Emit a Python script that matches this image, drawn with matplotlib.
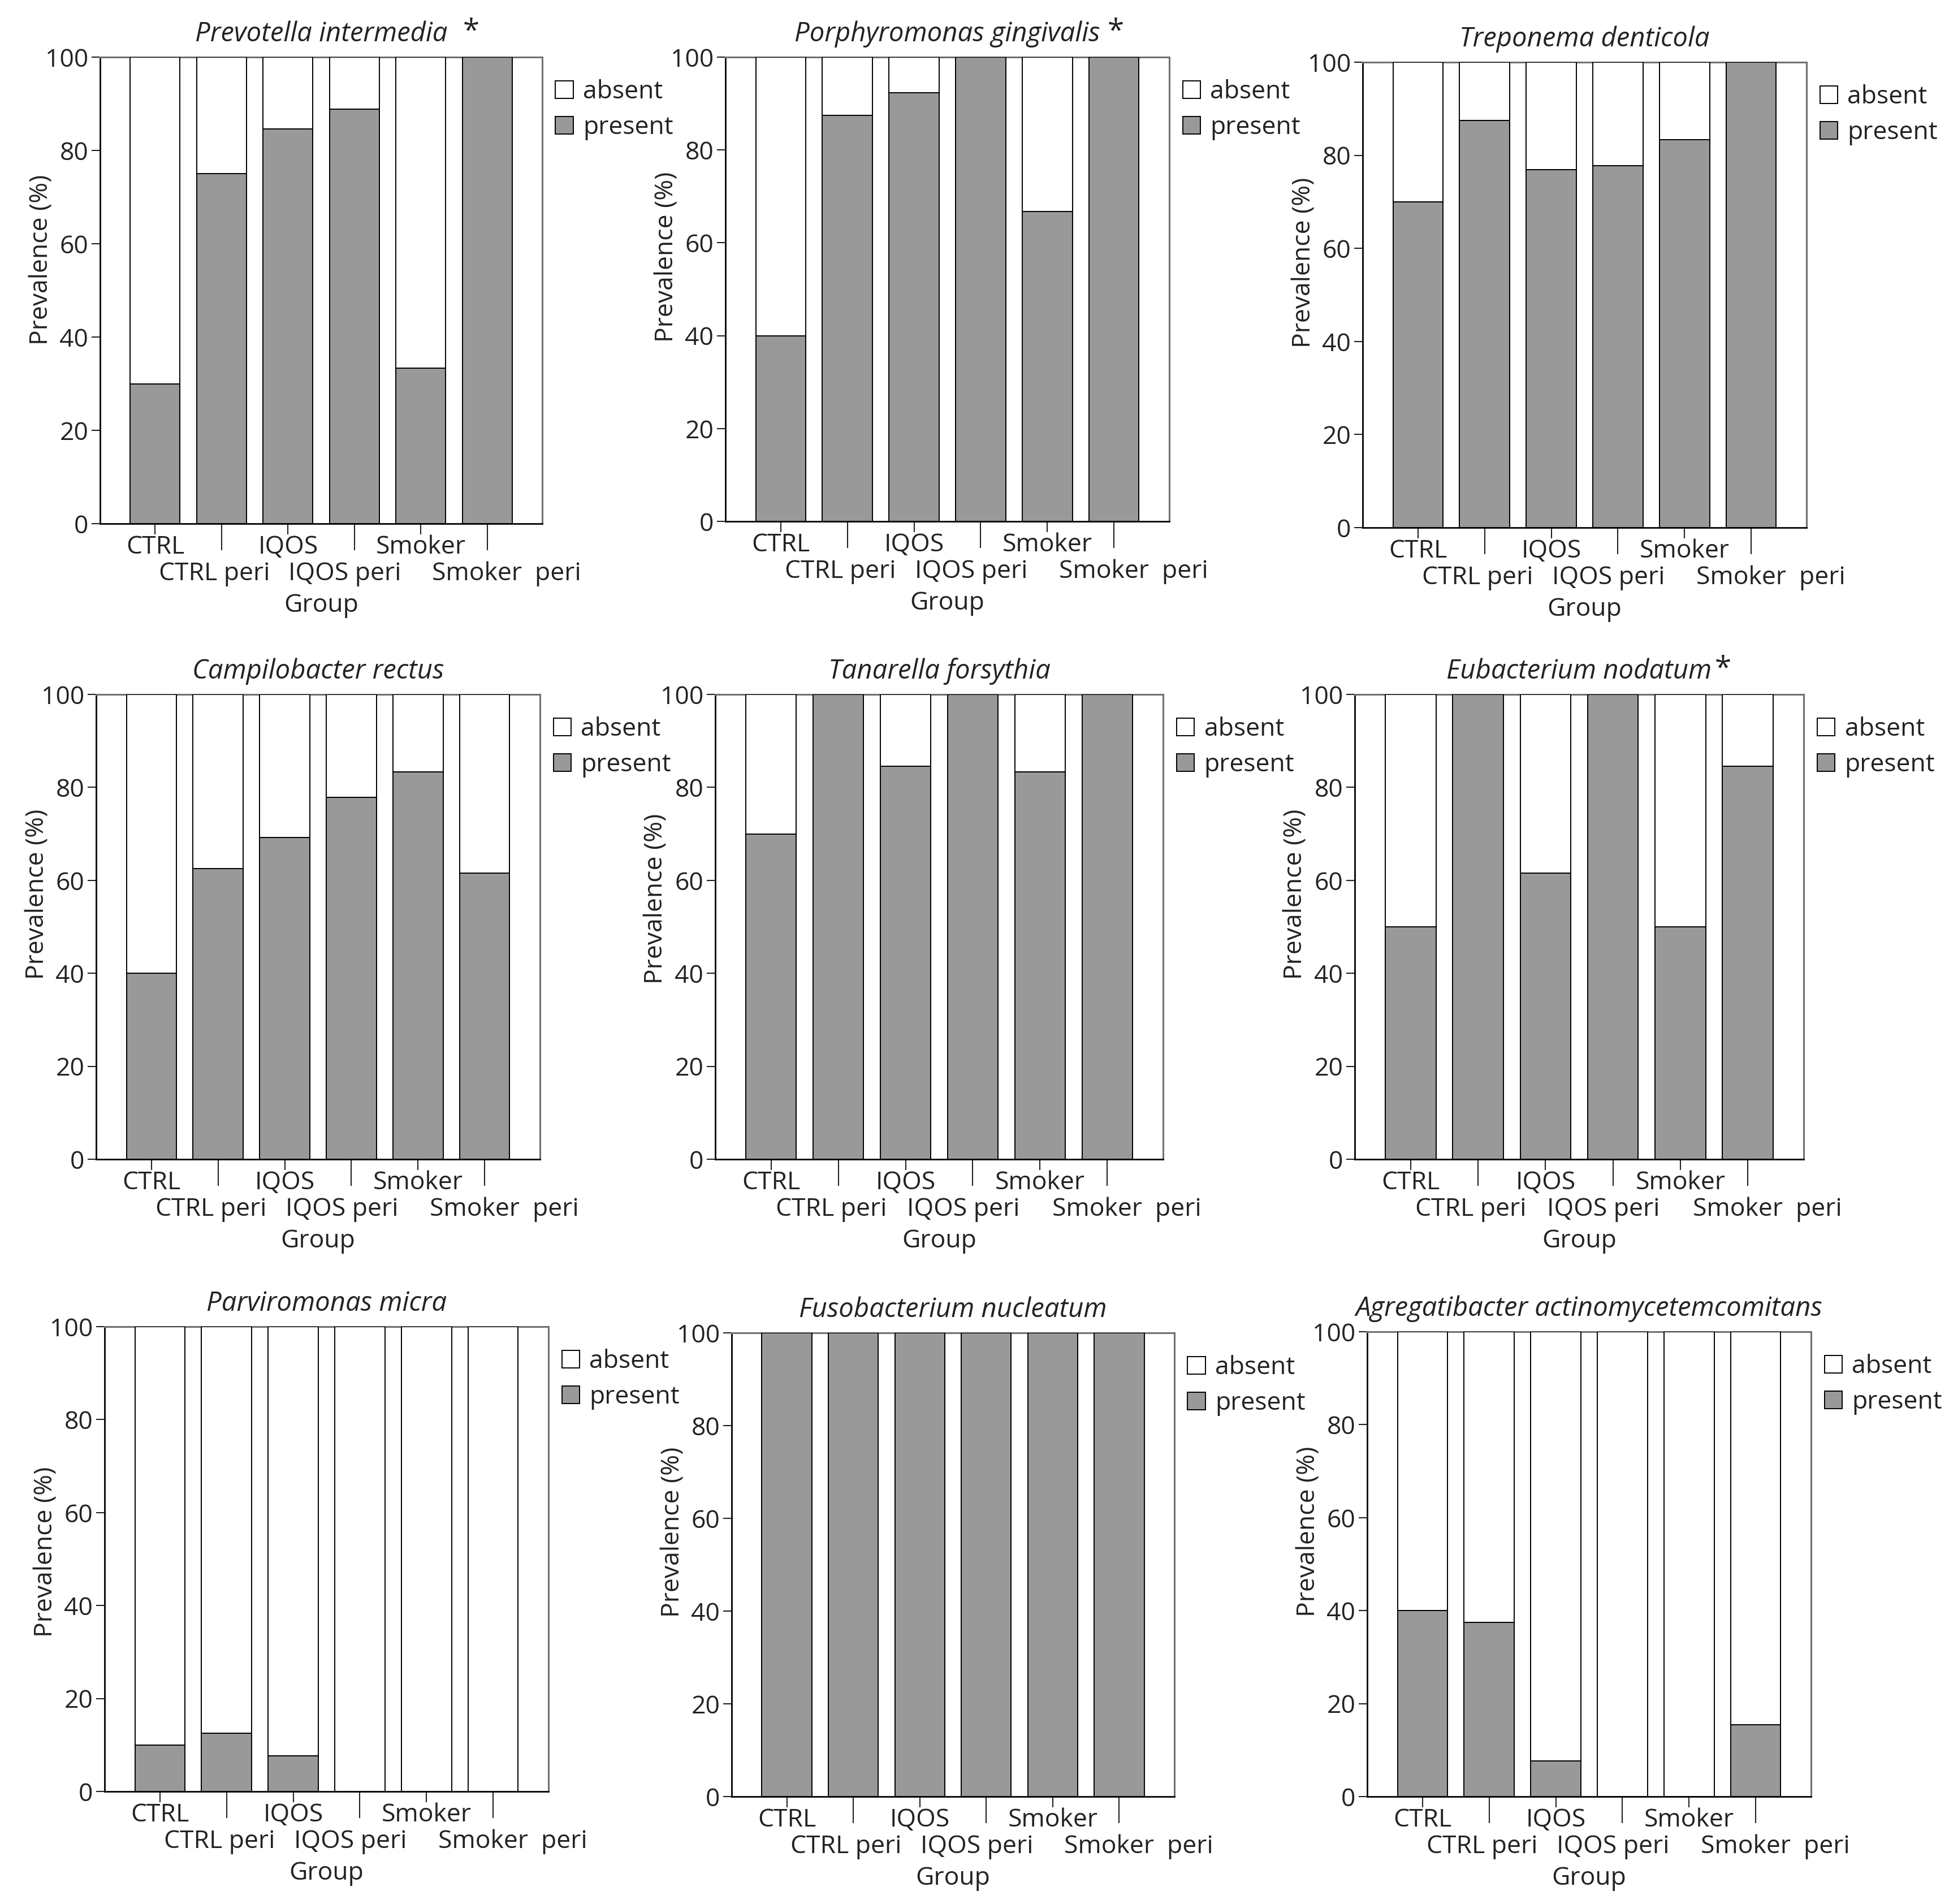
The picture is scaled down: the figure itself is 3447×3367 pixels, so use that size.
import numpy as np
import matplotlib
matplotlib.use('Agg')
import matplotlib.pyplot as plt
import matplotlib.transforms as mtransforms

plt.rcParams['font.family'] = ['Open Sans', 'DejaVu Sans']

groups = ['CTRL', 'CTRL peri', 'IQOS', 'IQOS peri', 'Smoker', 'Smoker  peri']

# prevalence of "present" per group (%)
prevotella = [30.0, 75.0, 84.6, 88.9, 33.3, 100.0]
porphyromonas = [40.0, 87.5, 92.3, 100.0, 66.7, 100.0]
treponema = [70.0, 87.5, 76.9, 77.8, 83.3, 100.0]
campilobacter = [40.0, 62.5, 69.2, 77.8, 83.3, 61.5]
tanarella = [70.0, 100.0, 84.6, 100.0, 83.3, 100.0]
eubacterium = [50.0, 100.0, 61.5, 100.0, 50.0, 84.6]
parviromonas = [10.0, 12.5, 7.7, 0.0, 0.0, 0.0]
fusobacterium = [100.0, 100.0, 100.0, 100.0, 100.0, 100.0]
agregatibacter = [40.0, 37.5, 7.7, 0.0, 0.0, 15.4]

titles = ['Prevotella intermedia', 'Porphyromonas gingivalis', 'Treponema denticola',
          'Campilobacter rectus', 'Tanarella forsythia', 'Eubacterium nodatum',
          'Parviromonas micra', 'Fusobacterium nucleatum', 'Agregatibacter actinomycetemcomitans']
significant = [True, True, False, False, False, True, False, False, False]
present_all = [prevotella, porphyromonas, treponema, campilobacter, tanarella,
               eubacterium, parviromonas, fusobacterium, agregatibacter]

W, H = 3448, 3367
fig = plt.figure(figsize=(W / 100, H / 100), dpi=100)

# axes boxes in pixels (left, top, right, bottom) - panels are slightly offset in the original
boxes = [(177, 101, 959, 926), (1283, 101, 2068, 922), (2410, 110, 3195, 933),
         (170, 1228, 955, 2050), (1265, 1228, 2057, 2050), (2396, 1228, 3190, 2050),
         (185, 2346, 970, 3168), (1294, 2357, 2077, 3177), (2418, 2355, 3203, 3177)]
star_gap = {0: 20, 1: 9, 5: 4}
# the "peri" labels sit a bit off their ticks in the original (points)
peri_shift = [-9, -12, 25]
# y label is not quite centred on the axis in the original
ylab_y = [0.565, 0.57, 0.57, 0.57, 0.56, 0.57, 0.515, 0.57, 0.57]

fs = 32
txt = '#222222'
gray = '#999999'
x = np.arange(len(groups))

for i, (l, t, r, b) in enumerate(boxes):
    ax = fig.add_axes([l / W, 1 - b / H, (r - l) / W, (b - t) / H])
    present = np.array(present_all[i])
    absent = 100 - present
    pb = ax.bar(x, present, width=0.75, color=gray, edgecolor='black', linewidth=1.4, zorder=3)
    ab = ax.bar(x, absent, bottom=present, width=0.75, color='white', edgecolor='black',
                linewidth=1.4, zorder=3)
    ax.set_xlim(-0.83, 5.83)
    ax.set_ylim(0, 100)
    ax.set_yticks(range(0, 101, 20))
    ax.tick_params(axis='y', labelsize=fs, length=11, width=1.5, pad=4, colors=txt)

    # staggered x labels: even groups on major ticks, odd ones on long minor ticks
    ax.set_xticks(x[::2])
    ax.set_xticklabels(groups[::2])
    ax.set_xticks(x[1::2], minor=True)
    ax.set_xticklabels(groups[1::2], minor=True)
    ax.tick_params(axis='x', which='major', labelsize=fs, length=14, width=1.5, pad=0, colors=txt)
    ax.tick_params(axis='x', which='minor', labelsize=fs, length=34, width=1.5, pad=14, colors=txt)
    for lab, dx in zip(ax.get_xticklabels(minor=True), peri_shift):
        lab.set_transform(lab.get_transform() +
                          mtransforms.ScaledTranslation(dx / 72, 0, fig.dpi_scale_trans))

    for s in ['left', 'bottom']:
        ax.spines[s].set_color('black')
        ax.spines[s].set_linewidth(2)
    for s in ['top', 'right']:
        ax.spines[s].set_color('#707070')
        ax.spines[s].set_linewidth(2.2)

    ax.set_xlabel('Group', fontsize=fs, color=txt, labelpad=8)
    ax.set_ylabel('Prevalence (%)', fontsize=fs, color=txt)
    ax.yaxis.set_label_coords(-0.104, ylab_y[i])
    ttl = ax.set_title(titles[i], fontsize=34, style='italic', color=txt, pad=20)
    if significant[i]:
        ax.annotate('*', xy=(1, 1), xycoords=ttl, xytext=(star_gap.get(i, 10), 5),
                    textcoords='offset points', ha='left', va='top', fontsize=38, color=txt)

    ax.legend([ab, pb], ['absent', 'present'], loc='upper left', bbox_to_anchor=(1.03, 0.952),
              frameon=False, fontsize=fs, handlelength=0.7, handleheight=0.7,
              handletextpad=0.4, labelspacing=0.42, borderaxespad=0, borderpad=0,
              labelcolor=txt)

fig.savefig('out.png', dpi=100)
